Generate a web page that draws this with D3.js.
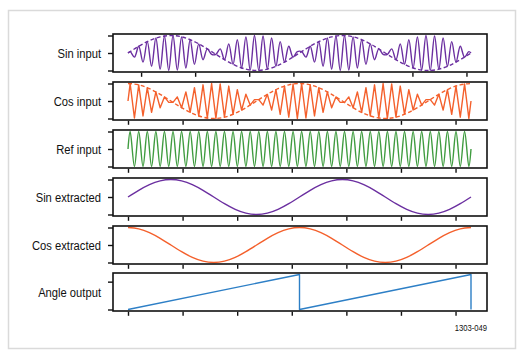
<!DOCTYPE html>
<html><head><meta charset="utf-8">
<script src="https://cdn.jsdelivr.net/npm/d3@7"></script>
<style>body{margin:0;background:#fff}svg{display:block}</style>
</head><body>
<svg id="c" width="525" height="355"></svg>
<script>
// ---------- data ----------
const panelLabels = ["Sin input", "Cos input", "Ref input", "Sin extracted", "Cos extracted", "Angle output"];
const xTicksDefault = [0, 1, 2, 3, 4, 5, 6];
const xTicksFirst = [0.24, 1.23, 2.22, 3.03, 4.22, 5.21, 6.2];
const yTicksSignal = [-1, 0, 1];
const yTicksAngle = [0, 5];

// carrier peak samples (one per half carrier period)
const sinInputPeaks = [
  0.078,-0.233,0.383,-0.522,0.649,-0.760,0.853,-0.924,0.972,-0.997,
  0.997,-0.972,0.924,-0.853,0.760,-0.649,0.522,-0.383,0.233,-0.078,
  -0.078,0.233,-0.383,0.522,-0.649,0.760,-0.853,0.924,-0.972,0.997,
  -0.997,0.972,-0.924,0.853,-0.760,0.649,-0.522,0.383,-0.233,0.078,
  0.078,-0.233,0.383,-0.522,0.649,-0.760,0.853,-0.924,0.972,-0.997,
  0.997,-0.972,0.924,-0.853,0.760,-0.649,0.522,-0.383,0.233,-0.078,
  -0.078,0.233,-0.383,0.522,-0.649,0.760,-0.853,0.924,-0.972,0.997,
  -0.997,0.972,-0.924,0.853,-0.760,0.649,-0.522,0.383,-0.233,0.078
];
const cosInputPeaks = [
  0.997,-0.972,0.924,-0.853,0.760,-0.649,0.522,-0.383,0.233,-0.078,
  -0.078,0.233,-0.383,0.522,-0.649,0.760,-0.853,0.924,-0.972,0.997,
  -0.997,0.972,-0.924,0.853,-0.760,0.649,-0.522,0.383,-0.233,0.078,
  0.078,-0.233,0.383,-0.522,0.649,-0.760,0.853,-0.924,0.972,-0.997,
  0.997,-0.972,0.924,-0.853,0.760,-0.649,0.522,-0.383,0.233,-0.078,
  -0.078,0.233,-0.383,0.522,-0.649,0.760,-0.853,0.924,-0.972,0.997,
  -0.997,0.972,-0.924,0.853,-0.760,0.649,-0.522,0.383,-0.233,0.078,
  0.078,-0.233,0.383,-0.522,0.649,-0.760,0.853,-0.924,0.972,-0.997
];
const refInputPeaks = [
  1,-1,1,-1,1,-1,1,-1,1,-1, 1,-1,1,-1,1,-1,1,-1,1,-1,
  1,-1,1,-1,1,-1,1,-1,1,-1, 1,-1,1,-1,1,-1,1,-1,1,-1,
  1,-1,1,-1,1,-1,1,-1,1,-1, 1,-1,1,-1,1,-1,1,-1,1,-1,
  1,-1,1,-1,1,-1,1,-1,1,-1, 1,-1,1,-1,1,-1,1,-1,1,-1
];
// envelopes / extracted (33 samples over 0..2π)
const sinEnvelope = [0,0.383,0.707,0.924,1,0.924,0.707,0.383,0,-0.383,-0.707,-0.924,-1,-0.924,-0.707,-0.383,
  0,0.383,0.707,0.924,1,0.924,0.707,0.383,0,-0.383,-0.707,-0.924,-1,-0.924,-0.707,-0.383,0];
const cosEnvelope = [1,0.924,0.707,0.383,0,-0.383,-0.707,-0.924,-1,-0.924,-0.707,-0.383,0,0.383,0.707,0.924,
  1,0.924,0.707,0.383,0,-0.383,-0.707,-0.924,-1,-0.924,-0.707,-0.383,0,0.383,0.707,0.924,1];
const sinExtracted = [0,0.383,0.707,0.924,1,0.924,0.707,0.383,0,-0.383,-0.707,-0.924,-1,-0.924,-0.707,-0.383,
  0,0.383,0.707,0.924,1,0.924,0.707,0.383,0,-0.383,-0.707,-0.924,-1,-0.924,-0.707,-0.383,0];
const cosExtracted = [1,0.924,0.707,0.383,0,-0.383,-0.707,-0.924,-1,-0.924,-0.707,-0.383,0,0.383,0.707,0.924,
  1,0.924,0.707,0.383,0,-0.383,-0.707,-0.924,-1,-0.924,-0.707,-0.383,0,0.383,0.707,0.924,1];
const angleX = [0, Math.PI, Math.PI, 2*Math.PI, 2*Math.PI];
const angleY = [0, 2*Math.PI, 0, 2*Math.PI, 0];
const figureCode = "1303-049";

// ---------- layout ----------
const svg = d3.select("#c");
const W = 525, H = 355;
const frameL = 113, frameR = 487;
const panelTops = [34, 82, 130, 178, 226, 273];
const panelH = 38;
const TWO_PI = 2 * Math.PI;

const colors = { purple: "#6b2fa0", orange: "#f4602c", green: "#3f9c3f", blue: "#2d7fc6" };

svg.append("rect").attr("x", 8.5).attr("y", 10.5).attr("width", 507).attr("height", 338)
  .attr("fill", "#fff").attr("stroke", "#dadada").attr("stroke-width", 1.5);

const x = d3.scaleLinear().domain([0, TWO_PI]).range([128, 471]);

function peaksToPoints(arr) {
  const step = TWO_PI / arr.length;
  return [[0, 0]].concat(arr.map((v, m) => [(m + 0.5) * step, v]), [[TWO_PI, 0]]);
}
function evenPoints(arr) {
  const step = TWO_PI / (arr.length - 1);
  return arr.map((v, k) => [k * step, v]);
}

const panels = [
  { series: [
      { pts: peaksToPoints(sinInputPeaks), color: colors.purple, curve: d3.curveCatmullRom },
      { pts: evenPoints(sinEnvelope), color: colors.purple, curve: d3.curveNatural, dash: "4,2.5" } ],
    yDomain: [-1, 1], yTicks: yTicksSignal, xTicks: xTicksFirst },
  { series: [
      { pts: peaksToPoints(cosInputPeaks), color: colors.orange, curve: d3.curveLinear },
      { pts: evenPoints(cosEnvelope), color: colors.orange, curve: d3.curveNatural, dash: "4,2.5" } ],
    yDomain: [-1, 1], yTicks: yTicksSignal, xTicks: xTicksDefault },
  { series: [
      { pts: peaksToPoints(refInputPeaks), color: colors.green, curve: d3.curveCatmullRom } ],
    yDomain: [-1, 1], yTicks: yTicksSignal, xTicks: xTicksDefault },
  { series: [
      { pts: evenPoints(sinExtracted), color: colors.purple, curve: d3.curveNatural } ],
    yDomain: [-1, 1], yTicks: yTicksSignal, xTicks: xTicksDefault },
  { series: [
      { pts: evenPoints(cosExtracted), color: colors.orange, curve: d3.curveNatural } ],
    yDomain: [-1, 1], yTicks: yTicksSignal, xTicks: xTicksDefault },
  { series: [
      { pts: angleX.map((v, i) => [v, angleY[i]]), color: colors.blue, curve: d3.curveLinear } ],
    yDomain: [0, TWO_PI], yTicks: yTicksAngle, xTicks: xTicksDefault }
];

panels.forEach((p, i) => {
  const top = panelTops[i];
  const bottom = top + panelH;
  const y = d3.scaleLinear().domain(p.yDomain).range([bottom - 1.5, top + 1.5]);
  const g = svg.append("g");

  p.series.forEach(s => {
    const line = d3.line().x(d => x(d[0])).y(d => y(d[1])).curve(s.curve);
    g.append("path").attr("d", line(s.pts)).attr("fill", "none")
      .attr("stroke", s.color).attr("stroke-width", 1.4)
      .attr("stroke-dasharray", s.dash || null)
      .attr("stroke-linejoin", "round");
  });

  // frame
  g.append("rect").attr("x", frameL).attr("y", top).attr("width", frameR - frameL).attr("height", panelH)
    .attr("fill", "none").attr("stroke", "#111").attr("stroke-width", 1.6);

  // y ticks
  const yAxis = d3.axisLeft(y).tickValues(p.yTicks).tickSize(5).tickFormat("");
  const ya = g.append("g").attr("transform", `translate(${frameL},0)`).call(yAxis);
  ya.select(".domain").remove();
  ya.selectAll("line").attr("stroke", "#111").attr("stroke-width", 1.4);

  // x ticks
  const xAxis = d3.axisBottom(x).tickValues(p.xTicks).tickSize(4).tickFormat("");
  const xa = g.append("g").attr("transform", `translate(0,${bottom + 0.8})`).call(xAxis);
  xa.select(".domain").remove();
  xa.selectAll("line").attr("stroke", "#111").attr("stroke-width", 1.4);

  // label
  svg.append("text")
    .attr("transform", `translate(101,${top + panelH / 2 + 5}) scale(0.83,1)`)
    .attr("text-anchor", "end")
    .attr("font-family", "Liberation Sans, Arial, sans-serif")
    .attr("font-size", 13.5).attr("fill", "#111")
    .text(panelLabels[i]);
});

svg.append("text")
  .attr("transform", `translate(487,331) scale(0.85,1)`)
  .attr("text-anchor", "end")
  .attr("font-family", "Liberation Sans, Arial, sans-serif")
  .attr("font-size", 9).attr("fill", "#111")
  .text(figureCode);
</script>
</body></html>
